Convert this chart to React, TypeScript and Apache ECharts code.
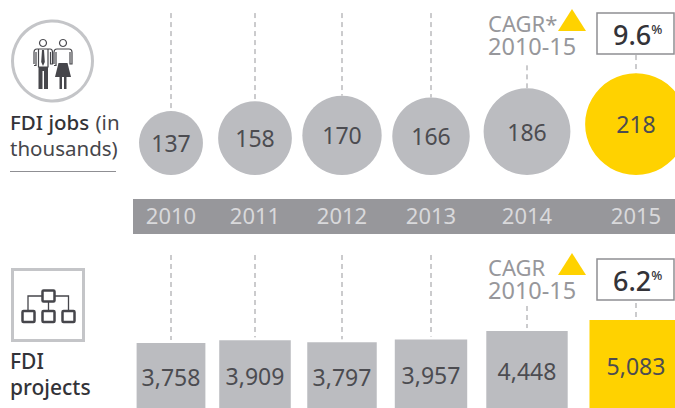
import React, { useEffect, useRef } from "react";
import * as echarts from "echarts";

const years = ["2010", "2011", "2012", "2013", "2014", "2015"];
const jobs = [137, 158, 170, 166, 186, 218];
const projects = [3758, 3909, 3797, 3957, 4448, 5083];
// Position of each year along the shared horizontal axis (unevenly spaced in the source).
const yearSlots = [171, 255, 342, 431, 527, 636];
const jobLeaderTops = [347, 347, 347, 347, 235, 257];
const projectLeaderTops = [8844, 8844, 8844, 8844, 5896, 6069];

const FONT = '"Noto Sans", sans-serif';
const GREY = "#bbbcc0";
const YELLOW = "#ffd200";
const INK = "#4c4c51";
const HEADING = "#97979b";

const W = 675;
const JOB_MAX = 375;
const PROJECT_MAX = 9133;
const PROJECT_WIDTH_RATIO = 1.058; // bar width / bar height

const peoplePath =
  "M43 39.500a3.500 3.500 0 1 0 .01 0Z M63 39.500a3.500 3.500 0 1 0 .01 0Z " +
  "M34 64V52.500Q34 49 37 49H50Q52.500 49 52.500 52.500V64H50.500V52M36 52V65.500H34M38.500 49.500V67H48V49.500 " +
  "M54 64V52.500Q54 49 57 49H69Q72 49 72 52.500V64H70V52M56 52V65.500H54";
const peopleFill =
  "M42 50H44L44.800 62L43 66L41.200 62Z " +
  "M38.500 67H48V89H44V71H42.500V89H38.500Z " +
  "M58.500 63H67.500L71 77H55Z M59.500 77H62V89H59.500Z M64 77H66.500V89H64Z";
const orgPath = "M28 311V296H42.500M54.500 296H68.500V311M48.500 301V311";

echarts.graphic.registerShape("peopleLine", echarts.graphic.extendPath(peoplePath, {}) as any);
echarts.graphic.registerShape("peopleFill", echarts.graphic.extendPath(peopleFill, {}) as any);
echarts.graphic.registerShape("orgLine", echarts.graphic.extendPath(orgPath, {}) as any);

const valueLabel = (v: number) => v.toLocaleString("en-US");

function markSeries(
  name: string,
  gridIndex: number,
  values: number[],
  leaders: number[],
  kind: "circle" | "rect",
) {
  return {
    type: "custom",
    name,
    xAxisIndex: gridIndex,
    yAxisIndex: gridIndex,
    clip: false,
    data: values.map((v, i) => [yearSlots[i], v, leaders[i], i]),
    encode: { x: 0, y: 1 },
    renderItem: (_p: any, api: any) => {
      const slot = api.value(0);
      const v = api.value(1);
      const [x, y0] = api.coord([slot, 0]);
      const top = api.coord([slot, v])[1];
      const leaderTop = api.coord([slot, api.value(2)])[1];
      const h = y0 - top;
      const last = api.value(3) === values.length - 1;
      const fill = last ? YELLOW : GREY;
      const shape =
        kind === "circle"
          ? { type: "circle", shape: { cx: x, cy: y0 - h / 2, r: h / 2 }, style: { fill } }
          : {
              type: "rect",
              shape: { x: x - (h * PROJECT_WIDTH_RATIO) / 2, y: top, width: h * PROJECT_WIDTH_RATIO, height: h },
              style: { fill },
            };
      return {
        type: "group",
        children: [
          {
            type: "line",
            shape: { x1: x, y1: leaderTop, x2: x, y2: top - (kind === "rect" ? 3 : 0) },
            style: { stroke: "#97979b", lineWidth: 1, lineDash: [5, 4] },
          },
          shape,
          {
            type: "text",
            style: {
              text: valueLabel(v),
              x,
              y: y0 - h / 2 + (kind === "rect" ? 1.5 : 0),
              align: "center",
              verticalAlign: "middle",
              fill: INK,
              font: `23px ${FONT}`,
            },
          },
        ],
      };
    },
  };
}

const txt = (text: string, x: number, y: number, size: number, fill: string, extra: any = {}) => ({
  type: "text",
  x,
  y,
  z: 10,
  style: { text, fill, font: `${size}px ${FONT}`, verticalAlign: "middle", ...extra },
});

function cagrGraphics(line1: string, pct: string, y: number, boxTop: number) {
  return [
    {
      type: "text",
      z: 10,
      x: 488,
      y: y - 12,
      style: {
        text: `{a|${line1}}\n{b|2010-15}`,
        rich: {
          a: { font: `22px ${FONT}`, fill: HEADING, lineHeight: 23 },
          b: { font: `23.500px ${FONT}`, fill: HEADING, lineHeight: 23 },
        },
      },
    },
    {
      type: "polygon",
      z: 10,
      shape: { points: [[558, y + 8], [572, y - 14], [586, y + 8]] },
      style: { fill: YELLOW },
    },
    {
      type: "rect",
      z: 10,
      shape: { x: 597, y: boxTop, width: 77, height: 41 },
      style: { fill: "#fff", stroke: "#8f8f93", lineWidth: 1.500 },
    },
    {
      type: "text",
      z: 11,
      x: 613,
      y: boxTop + 21,
      style: {
        text: `{n|${pct}}{p|%}`,
        rich: {
          n: { font: `500 27px ${FONT}`, fill: "#333338" },
          p: { font: `500 13px ${FONT}`, fill: "#333338", padding: [0, 0, 10, 0] },
        },
        verticalAlign: "middle",
      },
    },
  ];
}

const graphicElements: any[] = [
  { type: "rect", z: -1, shape: { x: 133, y: 199, width: 542, height: 35 }, style: { fill: "#97979b" } },
  { type: "circle", shape: { cx: 52.500, cy: 61, r: 40 }, style: { fill: "#fff", stroke: "#c4c5c8", lineWidth: 3 } },
  { type: "peopleLine", style: { fill: "none", stroke: "#46464b", lineWidth: 1.200 } },
  { type: "peopleFill", style: { fill: "#46464b" } },
  {
    type: "text",
    x: 10,
    y: 122,
    style: {
      text: "{b|FDI jobs} {r|(in}",
      rich: {
        b: { font: `500 20.500px ${FONT}`, fill: "#333338" },
        r: { font: `20.500px ${FONT}`, fill: "#46464b", padding: [0, 0, 0, 3] },
      },
      verticalAlign: "middle",
    },
  },
  txt("thousands)", 10, 148, 20.5, "#46464b"),
  { type: "line", shape: { x1: 10, y1: 171.500, x2: 116, y2: 171.500 }, style: { stroke: "#8f8f93", lineWidth: 1 } },
  { type: "rect", shape: { x: 12.500, y: 269.500, width: 71, height: 71 }, style: { fill: "#fff", stroke: "#c4c5c8", lineWidth: 3 } },
  { type: "orgLine", style: { fill: "none", stroke: "#46464b", lineWidth: 1.300 } },
  ...[
    [42.500, 290.500, 12, 11],
    [22.500, 311, 12, 11],
    [42.500, 311, 12, 11],
    [62.500, 311, 12, 11],
  ].map(([x, y, width, height]) => ({
    type: "rect",
    shape: { x, y, width, height, r: 1 },
    style: { fill: "#fff", stroke: "#46464b", lineWidth: 2.500 },
  })),
  txt("FDI", 10, 361, 21, "#333338", { font: `500 21px ${FONT}` }),
  txt("projects", 10, 387, 21, "#333338", { font: `500 21px ${FONT}` }),
  ...cagrGraphics("CAGR*", "9.6", 23, 13),
  ...cagrGraphics("CAGR", "6.2", 267, 259),
];

const hiddenY = (gridIndex: number, max: number) => ({
  type: "value",
  gridIndex,
  min: 0,
  max,
  show: false,
});

export default function App() {
  const ref = useRef<HTMLDivElement>(null);
  useEffect(() => {
    document.body.style.margin = "0";
    const chart = echarts.init(ref.current!, null, { renderer: "svg" });
    chart.setOption({
      animation: false,
      grid: [
        { left: 0, width: W, top: 0, height: 175 },
        { left: 0, width: W, top: 250, height: 158 },
      ],
      xAxis: [
        {
          type: "value",
          gridIndex: 0,
          min: 0,
          max: W,
          z: 5,
          splitLine: { show: false },
          axisLine: { show: false },
          axisTick: { show: false },
          axisLabel: {
            customValues: yearSlots,
            formatter: (v: number) => years[yearSlots.indexOf(v)] ?? "",
            margin: 29,
            color: "#d9d9db",
            fontFamily: FONT,
            fontSize: 22,
            showMinLabel: true,
            showMaxLabel: true,
            hideOverlap: false,
          },
        },
        { type: "value", gridIndex: 1, min: 0, max: W, show: false },
      ],
      yAxis: [hiddenY(0, JOB_MAX), hiddenY(1, PROJECT_MAX)],
      series: [
        markSeries("FDI jobs", 0, jobs, jobLeaderTops, "circle"),
        markSeries("FDI projects", 1, projects, projectLeaderTops, "rect"),
      ],
      graphic: { elements: graphicElements },
    });
    return () => chart.dispose();
  }, []);
  return <div ref={ref} style={{ width: 675, height: 408 }} />;
}
